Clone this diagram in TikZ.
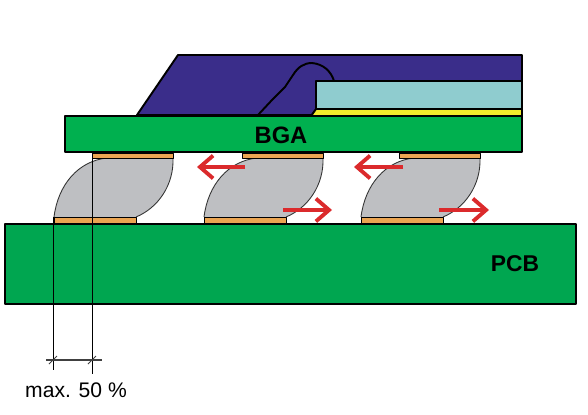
\documentclass[tikz,border=0pt]{standalone}
\usepackage{fontspec}
\setmainfont{Liberation Sans}
\usetikzlibrary{arrows.meta}
\definecolor{die}{HTML}{3A2D8A}
\definecolor{chip}{HTML}{8FCCCF}
\definecolor{glue}{HTML}{F2EC2C}
\definecolor{board}{HTML}{00B04F}
\definecolor{pcbgreen}{HTML}{00A650}
\definecolor{pad}{HTML}{EBA552}
\definecolor{solder}{HTML}{BEBFC2}
\definecolor{force}{HTML}{DB2A2C}
\tikzset{
  outline/.style={draw=black,line width=1.1pt},
  padbox/.style={fill=pad,draw=black,line width=.4pt},
  forcearrow/.style={force,line width=2.2pt,-{Straight Barb[length=7.5pt,width=13pt,line width=2.2pt]}},
  dimline/.style={black!75,line width=.6pt}
}
\begin{document}
\begin{tikzpicture}[x=.02cm,y=-.02cm,line join=round]
  \useasboundingbox (0,0) rectangle (588,415);

  % Package
  \fill[die,outline] (137,115)--(178,55)--(522,55)--(522,115)--cycle;
  \draw[outline] (258,115)--(272,100)--(285,87)--(293,75) .. controls (298,67) and (304,63) .. (312,63) .. controls (323,64) and (331,71) .. (334,81);
  \fill[chip,outline] (316,81) rectangle (522,109);
  \fill[glue,outline] (311,116)--(316,109)--(522,109)--(522,116)--cycle;
  \fill[board,outline] (65,116) rectangle (522,152);
  \node (bga) at (281,135) {\fontsize{13.5}{14}\bfseries\selectfont BGA};

  % Board
  \fill[pcbgreen,outline] (5,224) rectangle (576,304);
  \node (pcb) at (515,264) {\fontsize{13}{13}\bfseries\selectfont PCB};

  % Solder joints
  \foreach \dx/\dy in {0/0,150/0,307/0}{
    \begin{scope}[shift={(\dx,\dy)}]
      \fill[solder] (54,217) .. controls (58,185) and (78,161) .. (107,158)--(173,158)
        .. controls (174,185) and (158,208) .. (136,217)--cycle;
      \draw[black!80,line width=.5pt] (54,217) .. controls (58,185) and (78,161) .. (107,158);
      \draw[black!80,line width=.5pt] (173,158) .. controls (174,185) and (158,208) .. (136,217);
      \fill[padbox] (92,153) rectangle (173,158);
      \fill[padbox] (54,217) rectangle (136,223.5);
    \end{scope}
  }

  % Forces
  \draw[forcearrow] (245,167)--(197,167);
  \draw[forcearrow] (403,167)--(354,167);
  \draw[forcearrow] (283,210)--(332,210);
  \draw[forcearrow] (439,210)--(489,210);

  % Dimension
  \coordinate (leftfoot) at (53,370);
  \coordinate (rightfoot) at (92,374);
  \draw[black,line width=.5pt] (53,217)--(leftfoot);
  \draw[black,line width=.5pt] (92,153)--(rightfoot);
  \draw[dimline] (46,360)--(102,360);
  \draw[dimline] (49,364)--(57,356);
  \draw[dimline] (88,364)--(96,356);
  \node (limit) at (76,390) {\fontsize{12}{12}\selectfont max. 50 \%};
\end{tikzpicture}
\end{document}
